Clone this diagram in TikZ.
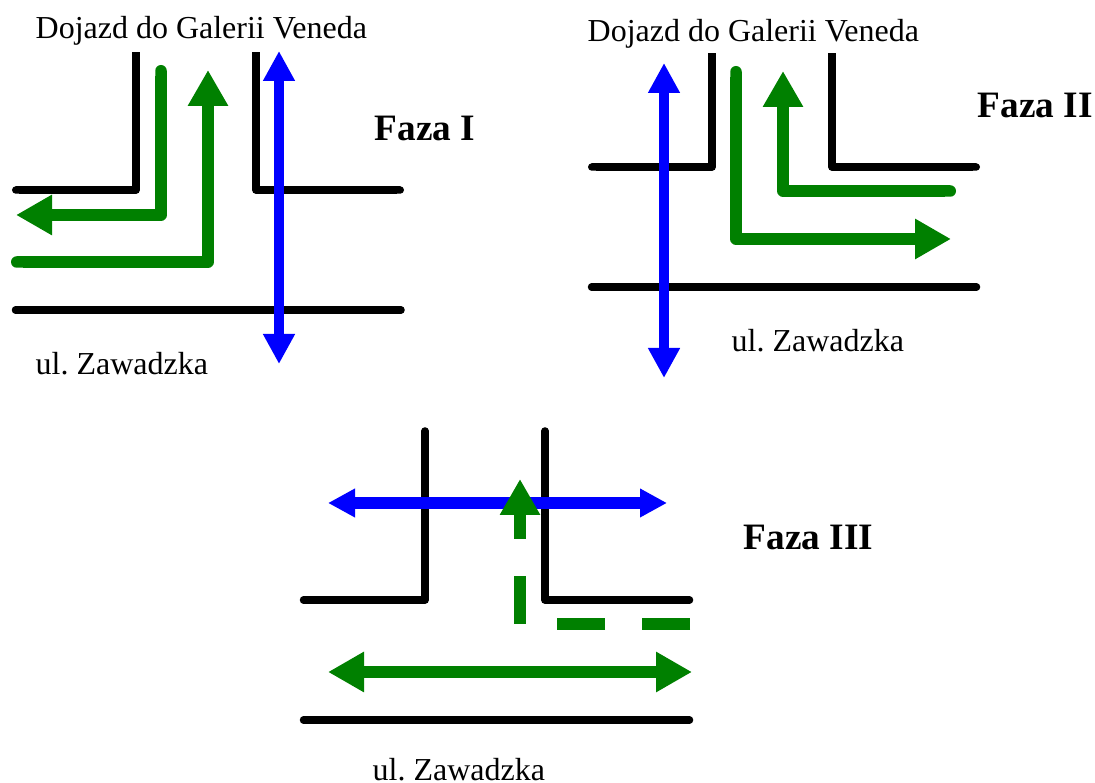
\documentclass[tikz,border=0pt]{standalone}
\usepackage{fontspec}
\setmainfont{Liberation Serif}
\usetikzlibrary{arrows.meta}
\definecolor{greenway}{RGB}{0,128,0}
\definecolor{blueway}{RGB}{0,0,255}
\tikzset{
	road/.style={line width=0.075cm, line cap=round, line join=round},
	roadcut/.style={line width=0.075cm, line join=round, {Round Cap[]}-},
	turn/.style={line width=0.115cm, line join=round, color=greenway, >={Triangle[length=0.36cm,width=0.38cm]}},
	cross/.style={line width=0.095cm, color=blueway, >={Triangle[length=#1,width=#1]}, <->},
	cross/.default=0.3cm,
	streetname/.style={inner sep=0pt, anchor=base west, font=\fontsize{9.1}{11}\selectfont},
	phasename/.style={inner sep=0pt, anchor=base west, font=\fontsize{10.6}{12}\selectfont\bfseries}
}
\begin{document}
\begin{tikzpicture}
	\useasboundingbox (0,0) rectangle (10.95,7.83);
	% Faza I
	\draw[roadcut] (0.12,5.93) to (1.36,5.93) to (1.36,7.31);
	\draw[roadcut] (4.04,5.93) to (2.56,5.93) to (2.56,7.31);
	\draw[road] (0.155,4.73) to (4.01,4.73);
	\draw[turn, {Round Cap[]}->] (1.61,7.18) -- (1.61,5.68) -- (0.16,5.68);
	\draw[turn, {Round Cap[]}->] (0.11,5.21) -- (2.08,5.21) -- (2.08,7.13);
	\draw[cross] (2.79,7.32) to (2.79,4.19);
	\node[streetname] (dojazdI) at (0.35,7.445) {Dojazd do Galerii Veneda};
	\node[streetname] (zawadzkaI) at (0.35,4.08) {ul.\ Zawadzka};
	\node[phasename] (fazaI) at (3.74,6.42) {Faza I};
	% Faza II
	\draw[roadcut] (5.88,6.16) to (7.12,6.16) to (7.12,7.30);
	\draw[roadcut] (9.80,6.16) to (8.32,6.16) to (8.32,7.30);
	\draw[road] (5.915,4.96) to (9.765,4.96);
	\draw[turn, {Round Cap[]}->] (7.36,7.17) -- (7.36,5.44) -- (9.51,5.44);
	\draw[turn, {Round Cap[]}->] (9.56,5.92) -- (7.83,5.92) -- (7.83,7.12);
	\draw[cross] (6.64,7.20) to (6.64,4.05);
	\node[streetname] (dojazdII) at (5.87,7.415) {Dojazd do Galerii Veneda};
	\node[streetname] (zawadzkaII) at (7.31,4.31) {ul.\ Zawadzka};
	\node[phasename] (fazaII) at (9.77,6.65) {Faza II};
	% Faza III
	\draw[road] (3.035,1.83) to (4.25,1.83) to (4.25,3.52);
	\draw[road] (6.895,1.83) to (5.45,1.83) to (5.45,3.52);
	\draw[road] (3.035,0.63) to (6.895,0.63);
	\draw[cross=0.27cm, line width=0.115cm] (3.28,2.80) to (6.67,2.80);
	\draw[turn, dash pattern=on 0.48cm off 0.37cm] (6.90,1.59) -- (5.57,1.59);
	\draw[turn, ->, dash pattern=on 0.48cm off 0.37cm] (5.20,1.59) -- (5.20,3.04);
	\draw[turn, <->] (3.28,1.11) to (6.92,1.11);
	\node[streetname] (zawadzkaIII) at (3.72,0.03) {ul.\ Zawadzka};
	\node[phasename] (fazaIII) at (7.43,2.33) {Faza III};
\end{tikzpicture}
\end{document}
